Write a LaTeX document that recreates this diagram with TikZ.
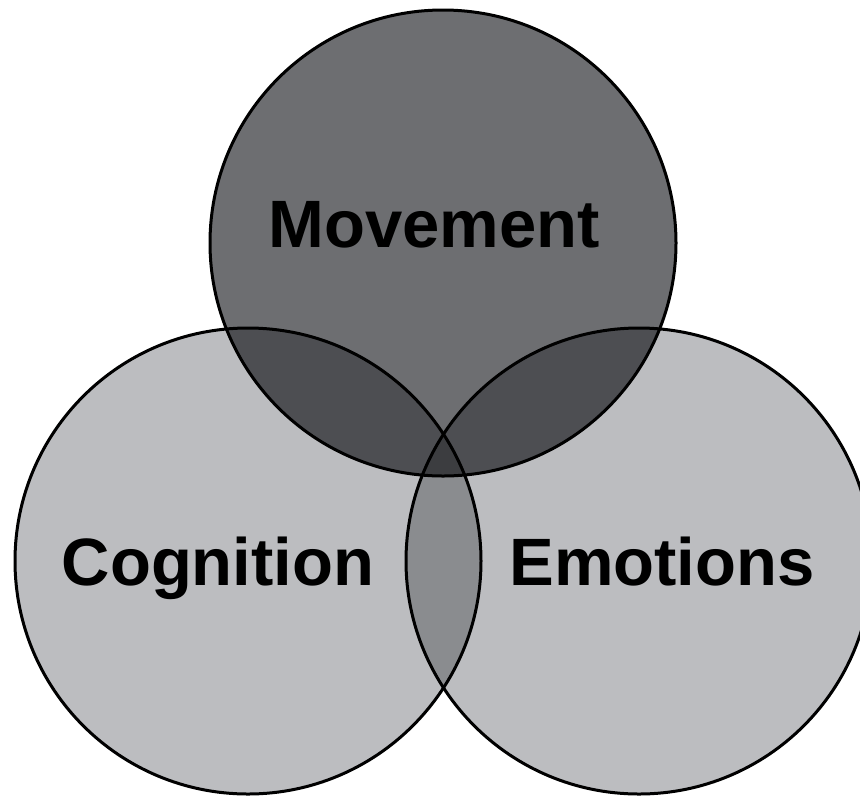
\documentclass[tikz,border=0pt]{standalone}
\usepackage{fontspec}
\setmainfont{Liberation Sans}
\definecolor{topgray}{HTML}{6D6E71}
\definecolor{sidegray}{HTML}{BCBDC0}
\definecolor{topside}{HTML}{4D4E52}
\definecolor{sideside}{HTML}{8A8C8F}
\definecolor{triple}{HTML}{3C3D40}
\begin{document}
\begin{tikzpicture}[x=1pt,y=-1pt,
  outline/.style={draw=black,line width=3pt},
  lbl/.style={anchor=base,inner sep=0pt,font=\fontsize{67}{71}\selectfont\bfseries}]
\useasboundingbox (0,0) rectangle (860,796);
\clip (0,0) rectangle (860,796);
\def\rr{233}
\coordinate (M) at (443,243);
\coordinate (C) at (248,561);
\coordinate (E) at (639,561);
% base fills
\fill[sidegray] (C) circle[radius=\rr];
\fill[sidegray] (E) circle[radius=\rr];
\fill[topgray] (M) circle[radius=\rr];
% pairwise overlaps
\begin{scope}
  \clip (C) circle[radius=\rr];
  \fill[sideside] (E) circle[radius=\rr];
\end{scope}
\begin{scope}
  \clip (M) circle[radius=\rr];
  \fill[topside] (C) circle[radius=\rr];
  \fill[topside] (E) circle[radius=\rr];
\end{scope}
% triple overlap
\begin{scope}
  \clip (M) circle[radius=\rr];
  \clip (C) circle[radius=\rr];
  \fill[triple] (E) circle[radius=\rr];
\end{scope}
% outlines
\draw[outline] (M) circle[radius=\rr];
\draw[outline] (C) circle[radius=\rr];
\draw[outline] (E) circle[radius=\rr];
% labels
\node[lbl] (mov) at (434,247) {Movement};
\node[lbl] (cog) at (218,585) {Cognition};
\node[lbl] (emo) at (662,585) {Emotions};
\end{tikzpicture}
\end{document}
